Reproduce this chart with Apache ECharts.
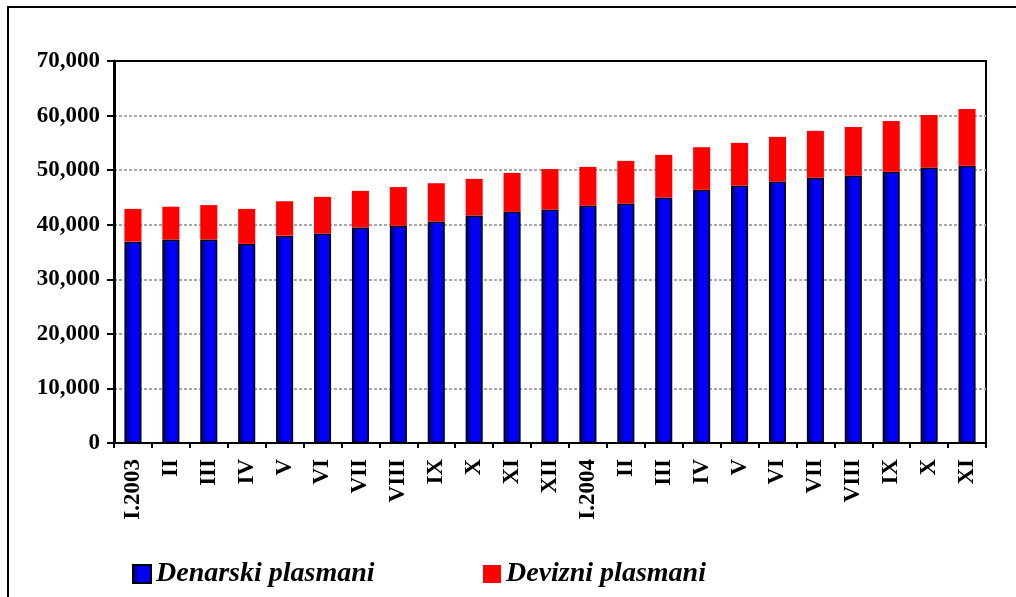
<!DOCTYPE html>
<html>
<head>
<meta charset="utf-8">
<script src="https://cdn.jsdelivr.net/npm/echarts@6/dist/echarts.min.js"></script>
<style>
  html, body { margin: 0; padding: 0; background: #fff; }
  #wrap { position: relative; width: 1016px; height: 597px; overflow: hidden; }
  #frame { position: absolute; left: 7px; top: 6px; width: 1200px; height: 800px; border: 2px solid #000; }
  #chart { position: absolute; left: 0; top: 0; width: 1016px; height: 597px; }
</style>
</head>
<body>
<div id="wrap">
  <div id="frame"></div>
  <div id="chart"></div>
</div>
<script>
const FONT = '"Liberation Serif", "Times New Roman", serif';

const months = [
  "I.2003", "II", "III", "IV", "V", "VI", "VII", "VIII", "IX", "X", "XI", "XII",
  "I.2004", "II", "III", "IV", "V", "VI", "VII", "VIII", "IX", "X", "XI",
];

// Denarski plasmani (blue, bottom)
const denarski = [
  36900, 37300, 37300, 36500, 38000, 38400, 39500, 39800, 40600, 41700, 42400, 42800,
  43500, 43900, 45000, 46400, 47200, 47900, 48600, 49000, 49700, 50500, 50800,
];

// Devizni plasmani (red, top)
const devizni = [
  6000, 6000, 6300, 6400, 6300, 6700, 6700, 7100, 7000, 6700, 7100, 7400,
  7100, 7800, 7800, 7800, 7800, 8200, 8600, 8900, 9300, 9600, 10400,
];

const yTicks = { min: 0, max: 70000, interval: 10000 };

const SERIES_NAMES = ["Denarski plasmani", "Devizni plasmani"];

const chart = echarts.init(document.getElementById("chart"));

const blueFill = new echarts.graphic.LinearGradient(0, 0, 1, 0, [
  { offset: 0, color: "#000070" },
  { offset: 0.45, color: "#0000ff" },
  { offset: 1, color: "#0000ee" },
]);

const legendText = {
  fontFamily: FONT,
  fontSize: 28,
  fontWeight: "bold",
  fontStyle: "italic",
  color: "#000",
};

chart.setOption({
  animation: false,
  backgroundColor: "transparent",
  grid: {
    left: 114, right: 30, top: 61, bottom: 154,
    show: true, borderColor: "#000", borderWidth: 2, backgroundColor: "transparent",
  },
  legend: [
    {
      data: [SERIES_NAMES[0]],
      left: 127, top: 555,
      icon: "rect", itemWidth: 18, itemHeight: 18, itemGap: 6,
      textStyle: legendText,
    },
    {
      data: [SERIES_NAMES[1]],
      left: 478, top: 555,
      icon: "rect", itemWidth: 18, itemHeight: 18, itemGap: 6,
      textStyle: legendText,
    },
  ],
  xAxis: {
    type: "category",
    data: months,
    boundaryGap: true,
    axisLine: { lineStyle: { color: "#000", width: 2 } },
    axisTick: { show: true, length: 5, lineStyle: { color: "#000", width: 2 } },
    axisLabel: {
      rotate: 90, interval: 0, margin: 16,
      fontFamily: FONT, fontSize: 23, fontWeight: "bold", color: "#000",
    },
  },
  yAxis: {
    type: "value",
    min: yTicks.min, max: yTicks.max, interval: yTicks.interval,
    axisLine: { show: true, lineStyle: { color: "#000", width: 3 } },
    axisTick: { show: true, length: 7, lineStyle: { color: "#000", width: 2 } },
    axisLabel: {
      margin: 14,
      fontFamily: FONT, fontSize: 23, fontWeight: "bold", color: "#000",
      formatter: v => v.toLocaleString("en-US"),
    },
    splitLine: {
      show: true, showMinLine: false, showMaxLine: false,
      lineStyle: { color: "#a8a8a8", width: 2, type: [3, 2] },
    },
  },
  series: [
    {
      name: SERIES_NAMES[0],
      type: "bar",
      stack: "total",
      barWidth: "45%",
      data: denarski,
      itemStyle: { color: blueFill, borderColor: "#000", borderWidth: 1.5 },
    },
    {
      name: SERIES_NAMES[1],
      type: "bar",
      stack: "total",
      barWidth: "45%",
      data: devizni,
      itemStyle: { color: "#ff0000" },
    },
  ],
});
</script>
</body>
</html>
